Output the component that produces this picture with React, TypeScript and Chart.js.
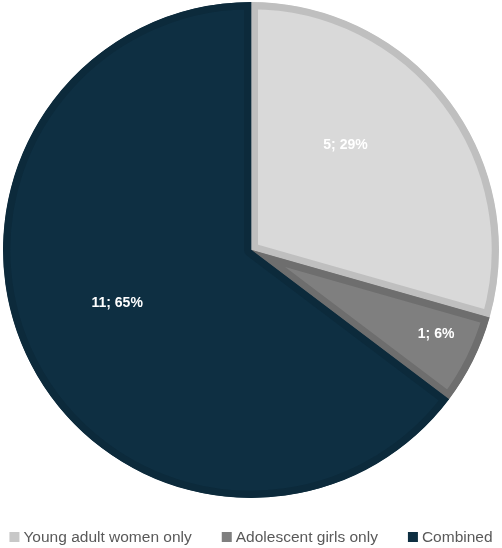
import { useEffect, useRef } from "react";
import { Chart, registerables } from "chart.js";

Chart.register(...registerables);

const categories = ["Young adult women only", "Adolescent girls only", "Combined"];
const counts = [5, 1, 11];
const fillColors = ["#d9d9d9", "#7f7f7f", "#0e2f42"];
const edgeColors = ["#bfbfbf", "#6e6e6e", "#0c2a3b"];
const legendColors = ["#c8c8c8", "#7f7f7f", "#0e2f42"];
// where each label sits: fraction of radius, shift from mid-angle (deg)
const labelRadius = [0.57, 0.82, 0.58];
const labelShift = [-11, -2, 5];

const FONT = "'Liberation Sans', Arial, sans-serif";

const sliceLabels = {
  id: "sliceLabels",
  afterDatasetsDraw(chart: Chart) {
    const ctx = chart.ctx;
    const meta = chart.getDatasetMeta(0);
    const total = counts.reduce((a, b) => a + b, 0);
    ctx.save();
    ctx.fillStyle = "#ffffff";
    ctx.font = `bold 14px ${FONT}`;
    ctx.textAlign = "center";
    ctx.textBaseline = "middle";
    meta.data.forEach((el: any, i: number) => {
      const { x, y, startAngle, endAngle, outerRadius } = el.getProps(
        ["x", "y", "startAngle", "endAngle", "outerRadius"],
        true
      );
      const mid = (startAngle + endAngle) / 2 + (labelShift[i] * Math.PI) / 180;
      const r = outerRadius * labelRadius[i];
      const pct = Math.round((counts[i] / total) * 100);
      ctx.fillText(`${counts[i]}; ${pct}%`, x + Math.cos(mid) * r, y + Math.sin(mid) * r);
    });
    ctx.restore();
  },
};

// one-row legend under the pie, Excel style
const bottomLegend = {
  id: "bottomLegend",
  afterDraw(chart: Chart) {
    const ctx = chart.ctx;
    const box = 10;
    const boxGap = 4;
    const itemGap = 30;
    ctx.save();
    ctx.font = `15.5px ${FONT}`;
    ctx.textBaseline = "middle";
    const widths = categories.map((c) => ctx.measureText(c).width);
    const total =
      widths.reduce((a, w) => a + w + box + boxGap, 0) + itemGap * (categories.length - 1);
    let x = (chart.width - total) / 2;
    const y = chart.height - 11;
    categories.forEach((c, i) => {
      ctx.fillStyle = legendColors[i];
      ctx.fillRect(x, y - box / 2, box, box);
      ctx.fillStyle = "#595959";
      ctx.fillText(c, x + box + boxGap, y + 1);
      x += box + boxGap + widths[i] + itemGap;
    });
    ctx.restore();
  },
};

export default function App() {
  const canvasRef = useRef<HTMLCanvasElement | null>(null);

  useEffect(() => {
    document.body.style.margin = "0";
    if (!canvasRef.current) return;
    const chart = new Chart(canvasRef.current, {
      type: "pie",
      data: {
        labels: categories,
        datasets: [
          {
            data: counts,
            backgroundColor: fillColors,
            borderColor: edgeColors,
            borderWidth: 7,
            borderAlign: "inner",
            radius: 248,
          },
        ],
      },
      options: {
        animation: false,
        responsive: false,
        layout: { padding: { top: 0, left: 0, right: 0, bottom: 48 } },
        plugins: {
          tooltip: { enabled: false },
          legend: { display: false },
        },
      },
      plugins: [sliceLabels, bottomLegend],
    });
    return () => chart.destroy();
  }, []);

  return (
    <div style={{ width: 502, height: 548 }}>
      <canvas ref={canvasRef} width={502} height={548} />
    </div>
  );
}
